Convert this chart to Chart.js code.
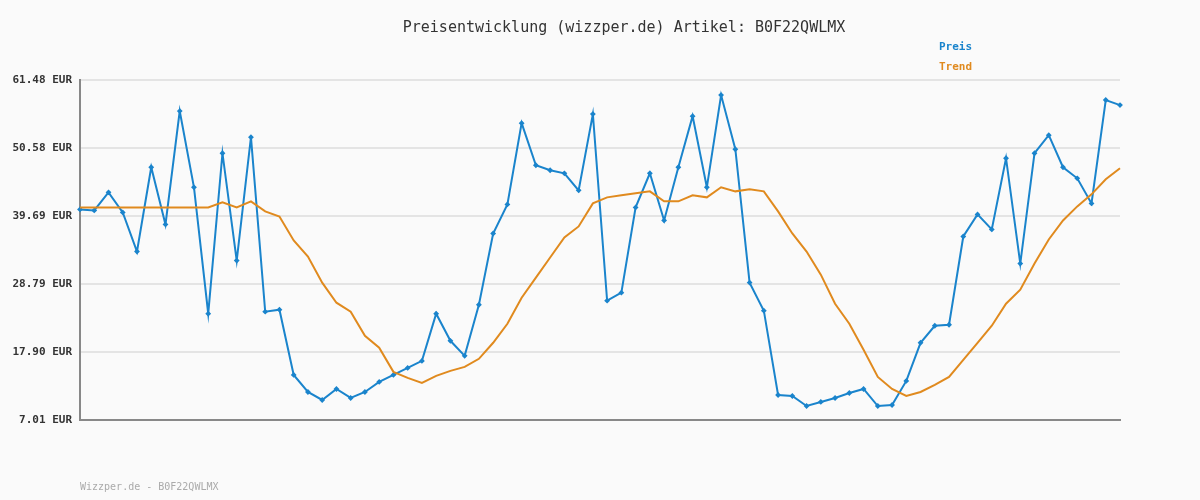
<!DOCTYPE html>
<html>
<head>
<meta charset="utf-8">
<script src="https://cdn.jsdelivr.net/npm/chart.js@4"></script>
<style>
  body { margin: 0; background: #fafafa; }
  #wrap { width: 1200px; height: 500px; }
</style>
</head>
<body>
<div id="wrap"><canvas id="chart" width="1200" height="500"></canvas></div>
<script>
const titleText = 'Preisentwicklung (wizzper.de) Artikel: B0F22QWLMX';
const footerText = 'Wizzper.de - B0F22QWLMX';
const tickValues = [7.01, 17.90, 28.79, 39.69, 50.58, 61.48];

const preis = [40.75, 40.59, 43.48, 40.27, 34.0, 47.5, 38.34, 56.5, 44.29, 24.04,
  49.75, 32.55, 52.32, 24.36, 24.68, 14.23, 11.5, 10.22, 11.98, 10.54,
  11.5, 13.11, 14.23, 15.36, 16.48, 24.04, 19.7, 17.29, 25.48, 36.89,
  41.55, 54.57, 47.82, 47.02, 46.53, 43.8, 56.02, 26.13, 27.41, 41.07,
  46.53, 38.98, 47.5, 55.69, 44.29, 59.07, 50.39, 29.02, 24.52, 11.02,
  10.86, 9.25, 9.9, 10.54, 11.34, 11.98, 9.25, 9.41, 13.27, 19.38,
  22.11, 22.27, 36.41, 39.95, 37.54, 48.95, 32.07, 49.75, 52.64, 47.5,
  45.73, 41.71, 58.27, 57.46];

const trend = [41.07, 41.07, 41.07, 41.07, 41.07, 41.07, 41.07, 41.07, 41.07, 41.07,
  41.87, 41.07, 42.04, 40.43, 39.62, 35.77, 33.2, 29.02, 25.8, 24.36,
  20.5, 18.58, 14.72, 13.75, 12.95, 14.07, 14.88, 15.52, 16.81, 19.38,
  22.43, 26.61, 29.82, 33.04, 36.25, 38.02, 41.71, 42.68, 43.0, 43.32,
  43.64, 42.04, 42.04, 43.0, 42.68, 44.29, 43.64, 43.96, 43.64, 40.43,
  36.89, 34.0, 30.3, 25.64, 22.43, 18.25, 13.91, 11.98, 10.86, 11.5,
  12.63, 13.91, 16.64, 19.38, 22.11, 25.64, 27.89, 32.07, 35.93, 38.98,
  41.23, 43.16, 45.57, 47.34];

const labels = preis.map((_, i) => i + 1);

// title, legend and footer as plain text
const textPlugin = {
  id: 'texts',
  afterDraw(chart) {
    const ctx = chart.ctx;
    ctx.save();
    ctx.textBaseline = 'middle';
    ctx.font = '15px "DejaVu Sans Mono", monospace';
    ctx.fillStyle = '#333';
    ctx.textAlign = 'center';
    ctx.fillText(titleText, 624, 28);
    ctx.textAlign = 'left';
    ctx.font = 'bold 11px "DejaVu Sans Mono", monospace';
    ctx.fillStyle = '#1a84cc';
    ctx.fillText('Preis', 939, 47);
    ctx.fillStyle = '#e08a1e';
    ctx.fillText('Trend', 939, 67);
    ctx.font = '10px "DejaVu Sans Mono", monospace';
    ctx.fillStyle = '#aaa';
    ctx.fillText(footerText, 80, 487);
    ctx.restore();
  }
};

new Chart(document.getElementById('chart'), {
  type: 'line',
  data: {
    labels: labels,
    datasets: [{
      label: 'Trend',
      data: trend,
      borderColor: '#e08a1e',
      borderWidth: 2,
      pointRadius: 0,
      tension: 0
    }, {
      label: 'Preis',
      data: preis,
      borderColor: '#1a84cc',
      backgroundColor: '#1a84cc',
      borderWidth: 2,
      pointStyle: 'rectRot',
      pointRadius: 1.5,
      tension: 0
    }]
  },
  options: {
    responsive: false,
    animation: false,
    layout: { padding: { left: 0, right: 80, top: 80, bottom: 72 } },
    plugins: { legend: { display: false }, tooltip: { enabled: false } },
    scales: {
      x: {
        offset: false,
        ticks: { display: false },
        grid: { display: false },
        border: { color: '#888', width: 2 }
      },
      y: {
        min: 7.01,
        max: 61.48,
        afterFit(scale) { scale.width = 80; },
        afterBuildTicks(scale) { scale.ticks = tickValues.map(v => ({ value: v })); },
        ticks: {
          padding: 8,
          color: '#333',
          font: { family: '"DejaVu Sans Mono", monospace', size: 11, weight: 'bold' },
          callback: v => v.toFixed(2) + ' EUR'
        },
        grid: { color: '#e4e4e4', lineWidth: 2, drawTicks: false },
        border: { color: '#888', width: 2 }
      }
    }
  },
  plugins: [textPlugin]
});
</script>
</body>
</html>
